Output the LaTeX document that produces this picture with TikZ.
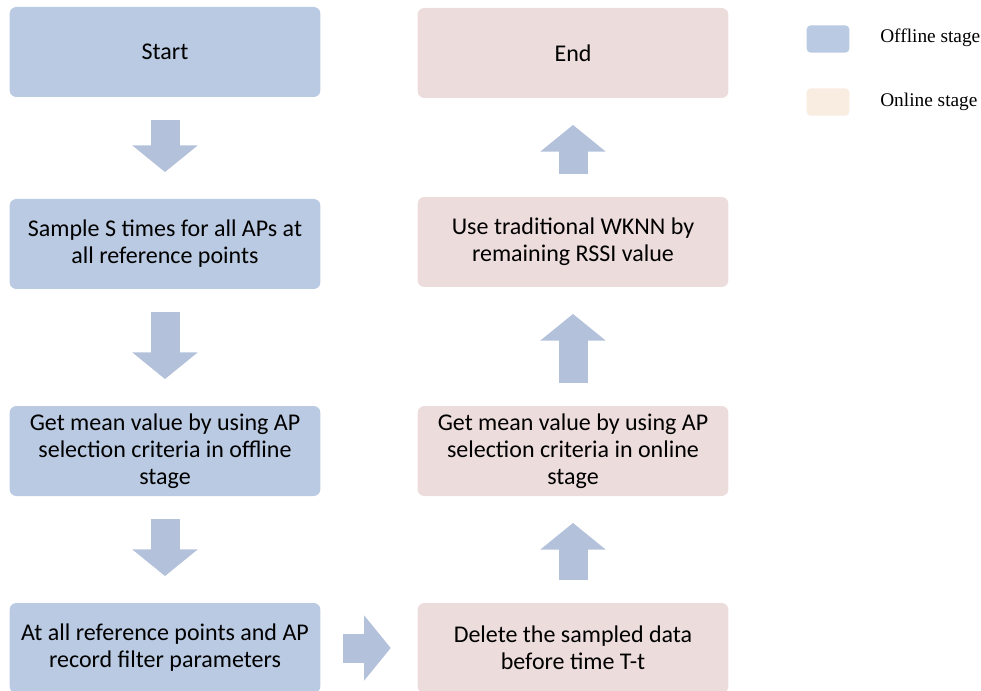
\documentclass[tikz,border=0pt]{standalone}
\usepackage{fontspec}
\setmainfont{Carlito}
\newfontfamily\legendfont{Liberation Serif}
\usetikzlibrary{
  arrows.meta,
  positioning
}
\definecolor{offblue}{RGB}{186,202,226}
\definecolor{onpink}{RGB}{237,220,220}
\definecolor{onbeige}{RGB}{249,236,224}
\definecolor{arrowblue}{RGB}{180,193,218}
\tikzset{
  stagebox/.style={rounded corners=5pt, minimum width=233pt, minimum height=67.5pt,
    align=center, font=\fontsize{18pt}{20.25pt}\selectfont, inner sep=2pt},
  offbox/.style={stagebox, fill=offblue},
  onbox/.style={stagebox, fill=onpink},
  blockarrow/.style={draw=arrowblue, line width=21.75pt,
    -{Triangle[width=48pt, length=20pt]}, shorten <=17pt, shorten >=20pt},
  legendsq/.style={rounded corners=3pt, minimum width=32pt, minimum height=20.5pt, inner sep=0pt},
  legendtext/.style={right, inner sep=0pt, font=\legendfont\fontsize{14.5pt}{16pt}\selectfont}
}

\begin{document}
\begin{tikzpicture}[x=0.75pt, y=-0.75pt]
  \useasboundingbox (0,0) rectangle (981,691);
  \node[offbox] (Start) at (165, 52) {Start};
  \node[offbox] (Sample) at (165, 244) {Sample S times for all APs at\\all reference points};
  \node[offbox] (MeanOff) at (165, 451) {Get mean value by using AP\\selection criteria in offline\\stage};
  \node[offbox] (Record) at (165, 648) {At all reference points and AP\\record filter parameters};
  \node[onbox] (End) at (573, 53) {End};
  \node[onbox] (Wknn) at (573, 242) {Use traditional WKNN by\\remaining RSSI value};
  \node[onbox] (MeanOn) at (573, 451) {Get mean value by using AP\\selection criteria in online\\stage};
  \node[onbox] (Delete) at (573, 648) {Delete the sampled data\\before time T-t};
  \node[legendsq, fill=offblue] (OffKey) at (828, 39) {};
  \node[legendsq, fill=onbeige] (OnKey) at (828, 102) {};
  \node[legendtext] (OffText) at (880, 38) {Offline stage};
  \node[legendtext] (OnText) at (880, 102) {Online stage};
  \draw[blockarrow] (Start) -- (Sample);
  \draw[blockarrow] (Sample) -- (MeanOff);
  \draw[blockarrow] (MeanOff) -- (Record);
  \draw[blockarrow] (Record) -- (Delete);
  \draw[blockarrow] (Delete) -- (MeanOn);
  \draw[blockarrow] (MeanOn) -- (Wknn);
  \draw[blockarrow] (Wknn) -- (End);
\end{tikzpicture}
\end{document}
